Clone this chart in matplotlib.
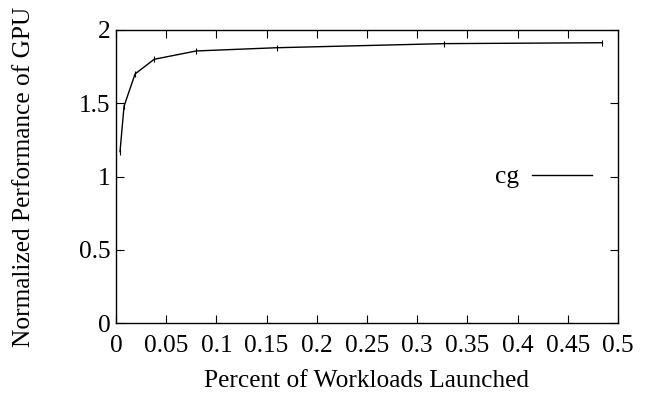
import matplotlib
matplotlib.use("Agg")
from matplotlib import pyplot as plt

plt.rcParams['font.family'] = ['Liberation Serif', 'DejaVu Serif']

launched = [0.004, 0.008, 0.019, 0.038, 0.08, 0.16, 0.327, 0.484]
perf = [1.17, 1.48, 1.70, 1.80, 1.857, 1.879, 1.907, 1.913]
xticks = [0, 0.05, 0.1, 0.15, 0.2, 0.25, 0.3, 0.35, 0.4, 0.45, 0.5]
xticklabels = ['0', '0.05', '0.1', '0.15', '0.2', '0.25', '0.3', '0.35', '0.4', '0.45', '0.5']
yticks = [0, 0.5, 1, 1.5, 2]
yticklabels = ['0', '0.5', '1', '1.5', '2']

fs = 18.3

fig = plt.figure(figsize=(6.54, 3.97), dpi=100)
ax = fig.add_axes([116 / 654, 1 - 323 / 397, (618 - 116) / 654, (323 - 30) / 397])

ax.plot(launched, perf, color='black', linewidth=1, marker='|', markersize=4,
        markeredgewidth=0.8, label='cg')

ax.set_xlim(0, 0.5)
ax.set_ylim(0, 2)
ax.set_xticks(xticks)
ax.set_xticklabels(xticklabels)
ax.set_yticks(yticks)
ax.set_yticklabels(yticklabels)
ax.tick_params(direction='in', length=6, width=0.8, labelsize=fs, top=True, right=True)
ax.tick_params(axis='x', pad=9)
ax.tick_params(axis='y', pad=4)
for s in ax.spines.values():
    s.set_linewidth(1)

ax.set_xlabel('Percent of Workloads Launched', fontsize=fs)
ax.set_ylabel('Normalized Performance of GPU', fontsize=fs)
ax.xaxis.set_label_coords(0.5, (323 - 381) / 293)
ax.xaxis.label.set_va('center')
ax.yaxis.set_label_coords((24 - 116) / 502, 0.5)
ax.yaxis.label.set_va('center')

leg = ax.legend(loc='center right', bbox_to_anchor=((592 - 116) / 502, (323 - 177) / 293),
                frameon=False, fontsize=fs, markerfirst=False, borderpad=0,
                borderaxespad=0, handlelength=2.36, handletextpad=0.5)
for h in leg.legend_handles:
    h.set_marker('')

fig.savefig('out.png', dpi=100)
